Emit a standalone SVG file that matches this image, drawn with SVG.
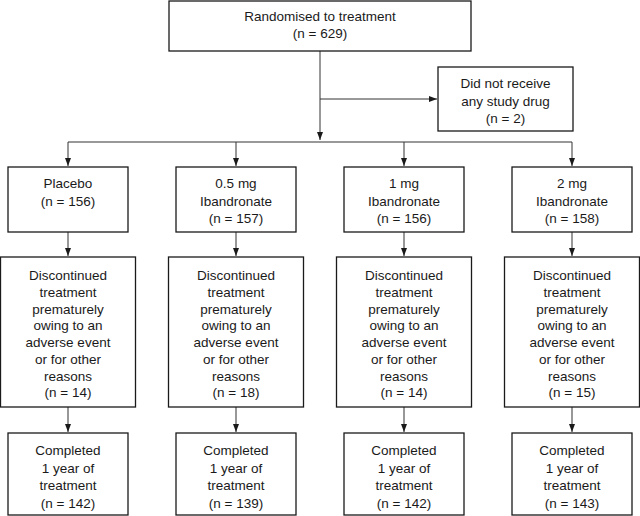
<svg xmlns="http://www.w3.org/2000/svg" width="640" height="516" viewBox="0 0 640 516">
<style>
.box{fill:#fff;stroke:#1a1a1a;stroke-width:1.3}
.t{font-family:"Liberation Sans",Arial,sans-serif;font-size:13.5px;fill:#1a1a1a;text-anchor:middle}
.c{fill:none;stroke:#333;stroke-width:1}
</style>
<defs>
<marker id="ah" viewBox="0 0 8 8" refX="8" refY="4" markerWidth="8" markerHeight="8" markerUnits="userSpaceOnUse" orient="auto">
<path d="M0,1 L8,4 L0,7 z" fill="#1a1a1a"/>
</marker>
</defs>
<rect width="640" height="516" fill="#fff"/>
<g id="connectors">
<path class="c" d="M320,51 V140" marker-end="url(#ah)"/>
<path class="c" d="M320,99 H437" marker-end="url(#ah)"/>
<path class="c" d="M68,142 H572"/>
<path class="c" d="M68,142 V166" marker-end="url(#ah)"/>
<path class="c" d="M236,142 V166" marker-end="url(#ah)"/>
<path class="c" d="M404,142 V166" marker-end="url(#ah)"/>
<path class="c" d="M572,142 V166" marker-end="url(#ah)"/>
<path class="c" d="M68,232 V256" marker-end="url(#ah)"/>
<path class="c" d="M236,232 V256" marker-end="url(#ah)"/>
<path class="c" d="M404,232 V256" marker-end="url(#ah)"/>
<path class="c" d="M572,232 V256" marker-end="url(#ah)"/>
<path class="c" d="M68,407 V432" marker-end="url(#ah)"/>
<path class="c" d="M236,407 V432" marker-end="url(#ah)"/>
<path class="c" d="M404,407 V432" marker-end="url(#ah)"/>
<path class="c" d="M572,407 V432" marker-end="url(#ah)"/>
</g>
<g id="randomised">
<rect class="box" x="169" y="1" width="302" height="50"/>
<text class="t" x="320" y="21">Randomised to treatment</text>
<text class="t" x="320" y="38">(n = 629)</text>
</g>
<g id="no-drug">
<rect class="box" x="438" y="67" width="135" height="64"/>
<text class="t" x="505.5" y="88">Did not receive</text>
<text class="t" x="505.5" y="105.5">any study drug</text>
<text class="t" x="505.5" y="123">(n = 2)</text>
</g>
<g id="placebo">
<rect class="box" x="8" y="167" width="120" height="65"/>
<text class="t" x="68" y="188">Placebo</text>
<text class="t" x="68" y="205.5">(n = 156)</text>
</g>
<g id="ib05">
<rect class="box" x="176" y="167" width="120" height="65"/>
<text class="t" x="236" y="188">0.5 mg</text>
<text class="t" x="236" y="205.5">Ibandronate</text>
<text class="t" x="236" y="223">(n = 157)</text>
</g>
<g id="ib1">
<rect class="box" x="344" y="167" width="120" height="65"/>
<text class="t" x="404" y="188">1 mg</text>
<text class="t" x="404" y="205.5">Ibandronate</text>
<text class="t" x="404" y="223">(n = 156)</text>
</g>
<g id="ib2">
<rect class="box" x="512" y="167" width="120" height="65"/>
<text class="t" x="572" y="188">2 mg</text>
<text class="t" x="572" y="205.5">Ibandronate</text>
<text class="t" x="572" y="223">(n = 158)</text>
</g>
<g id="disc-placebo">
<rect class="box" x="0.5" y="257" width="135" height="150"/>
<text class="t" x="68" y="280">Discontinued</text>
<text class="t" x="68" y="297">treatment</text>
<text class="t" x="68" y="313.5">prematurely</text>
<text class="t" x="68" y="330">owing to an</text>
<text class="t" x="68" y="347">adverse event</text>
<text class="t" x="68" y="364">or for other</text>
<text class="t" x="68" y="380.5">reasons</text>
<text class="t" x="68" y="397">(n = 14)</text>
</g>
<g id="disc-ib05">
<rect class="box" x="168.5" y="257" width="135" height="150"/>
<text class="t" x="236" y="280">Discontinued</text>
<text class="t" x="236" y="297">treatment</text>
<text class="t" x="236" y="313.5">prematurely</text>
<text class="t" x="236" y="330">owing to an</text>
<text class="t" x="236" y="347">adverse event</text>
<text class="t" x="236" y="364">or for other</text>
<text class="t" x="236" y="380.5">reasons</text>
<text class="t" x="236" y="397">(n = 18)</text>
</g>
<g id="disc-ib1">
<rect class="box" x="336.5" y="257" width="135" height="150"/>
<text class="t" x="404" y="280">Discontinued</text>
<text class="t" x="404" y="297">treatment</text>
<text class="t" x="404" y="313.5">prematurely</text>
<text class="t" x="404" y="330">owing to an</text>
<text class="t" x="404" y="347">adverse event</text>
<text class="t" x="404" y="364">or for other</text>
<text class="t" x="404" y="380.5">reasons</text>
<text class="t" x="404" y="397">(n = 14)</text>
</g>
<g id="disc-ib2">
<rect class="box" x="504.5" y="257" width="135" height="150"/>
<text class="t" x="572" y="280">Discontinued</text>
<text class="t" x="572" y="297">treatment</text>
<text class="t" x="572" y="313.5">prematurely</text>
<text class="t" x="572" y="330">owing to an</text>
<text class="t" x="572" y="347">adverse event</text>
<text class="t" x="572" y="364">or for other</text>
<text class="t" x="572" y="380.5">reasons</text>
<text class="t" x="572" y="397">(n = 15)</text>
</g>
<g id="comp-placebo">
<rect class="box" x="8" y="433" width="120" height="82"/>
<text class="t" x="68" y="455">Completed</text>
<text class="t" x="68" y="472.5">1 year of</text>
<text class="t" x="68" y="490">treatment</text>
<text class="t" x="68" y="507.5">(n = 142)</text>
</g>
<g id="comp-ib05">
<rect class="box" x="176" y="433" width="120" height="82"/>
<text class="t" x="236" y="455">Completed</text>
<text class="t" x="236" y="472.5">1 year of</text>
<text class="t" x="236" y="490">treatment</text>
<text class="t" x="236" y="507.5">(n = 139)</text>
</g>
<g id="comp-ib1">
<rect class="box" x="344" y="433" width="120" height="82"/>
<text class="t" x="404" y="455">Completed</text>
<text class="t" x="404" y="472.5">1 year of</text>
<text class="t" x="404" y="490">treatment</text>
<text class="t" x="404" y="507.5">(n = 142)</text>
</g>
<g id="comp-ib2">
<rect class="box" x="512" y="433" width="120" height="82"/>
<text class="t" x="572" y="455">Completed</text>
<text class="t" x="572" y="472.5">1 year of</text>
<text class="t" x="572" y="490">treatment</text>
<text class="t" x="572" y="507.5">(n = 143)</text>
</g>
</svg>
